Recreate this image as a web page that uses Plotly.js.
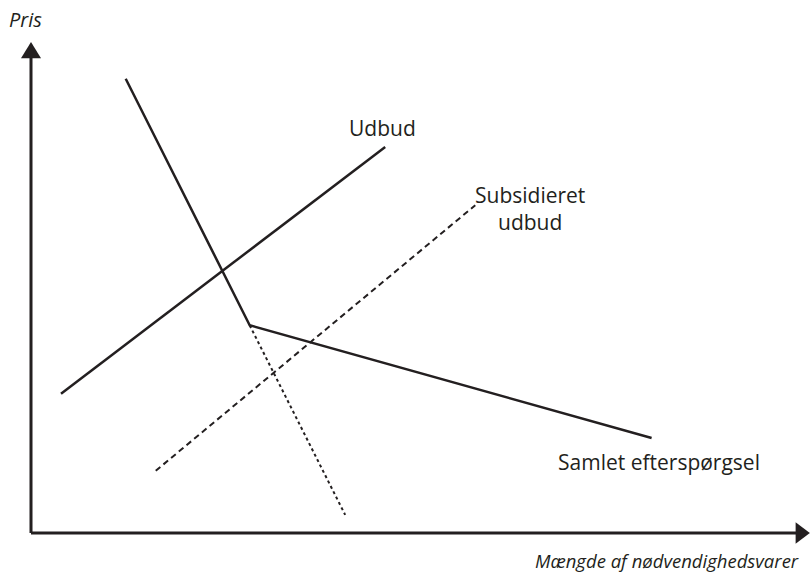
<!DOCTYPE html>
<html>
<head>
<meta charset="utf-8">
<script src="https://cdn.plot.ly/plotly-3.0.1.min.js"></script>
<style>html,body{margin:0;padding:0;background:#fff;}#chart{width:810px;height:572px;}</style>
</head>
<body>
<div id="chart"></div>
<script>
// Quantity (x) and price (y) in arbitrary units
var supplyX = [3.9, 46.0];
var supplyY = [28.4, 78.8];
var demandX = [12.3, 28.4, 80.6];
var demandY = [92.7, 42.4, 19.4];
var demandExtX = [28.4, 40.8];
var demandExtY = [42.4, 3.7];
var subsidX = [16.2, 57.7];
var subsidY = [12.7, 66.9];

var labels = {
  supply: "Udbud",
  subsid: "Subsidieret<br>udbud",
  demand: "Samlet efterspørgsel",
  xTitle: "Mængde af nødvendighedsvarer",
  yTitle: "Pris"
};

var ink = "#231f20";
var font = "Open Sans, Noto Sans, sans-serif";

var traces = [
  {x: supplyX, y: supplyY, mode: "lines", line: {color: ink, width: 2.5}, hoverinfo: "skip"},
  {x: demandX, y: demandY, mode: "lines", line: {color: ink, width: 2.5}, hoverinfo: "skip"},
  {x: demandExtX, y: demandExtY, mode: "lines", line: {color: ink, width: 2, dash: "dot"}, hoverinfo: "skip"},
  {x: subsidX, y: subsidY, mode: "lines", line: {color: ink, width: 2, dash: "6px,4px"}, hoverinfo: "skip"}
];

var layout = {
  width: 810, height: 572,
  margin: {l: 0, r: 0, t: 0, b: 0},
  paper_bgcolor: "#fff", plot_bgcolor: "#fff",
  showlegend: false,
  xaxis: {range: [-4.026, 101.17], visible: false, fixedrange: true},
  yaxis: {range: [-7.96, 108.78], visible: false, fixedrange: true},
  shapes: [
    {type: "line", xref: "x", yref: "y", x0: 0, y0: 0, x1: 0, y1: 97.5, line: {color: ink, width: 3}},
    {type: "line", xref: "x", yref: "y", x0: 0, y0: 0, x1: 99.8, y1: 0, line: {color: ink, width: 3}},
    {type: "path", xref: "x", yref: "y", path: "M -1.3 96.9 L 0 100.2 L 1.3 96.9 Z", fillcolor: ink, line: {color: ink, width: 0}},
    {type: "path", xref: "x", yref: "y", path: "M 99.3 -2.2 L 101.15 0 L 99.3 2.2 Z", fillcolor: ink, line: {color: ink, width: 0}}
  ],
  annotations: [
    {x: 45.7, y: 82.65, xref: "x", yref: "y", text: labels.supply, showarrow: false, xanchor: "center", yanchor: "middle", font: {family: font, size: 21, color: ink}},
    {x: 64.8, y: 66.2, xref: "x", yref: "y", text: labels.subsid, showarrow: false, xanchor: "center", yanchor: "middle", font: {family: font, size: 21, color: ink}},
    {x: 81.6, y: 14.5, xref: "x", yref: "y", text: labels.demand, showarrow: false, xanchor: "center", yanchor: "middle", font: {family: font, size: 21, color: ink}},
    {x: 82.66, y: -5.6, xref: "x", yref: "y", text: "<i>" + labels.xTitle + "</i>", showarrow: false, xanchor: "center", yanchor: "middle", font: {family: font, size: 18.5, color: ink}},
    {x: -0.65, y: 104.7, xref: "x", yref: "y", text: "<i>" + labels.yTitle + "</i>", showarrow: false, xanchor: "center", yanchor: "middle", font: {family: font, size: 20, color: ink}}
  ]
};

Plotly.newPlot("chart", traces, layout, {staticPlot: true, displayModeBar: false});
</script>
</body>
</html>
